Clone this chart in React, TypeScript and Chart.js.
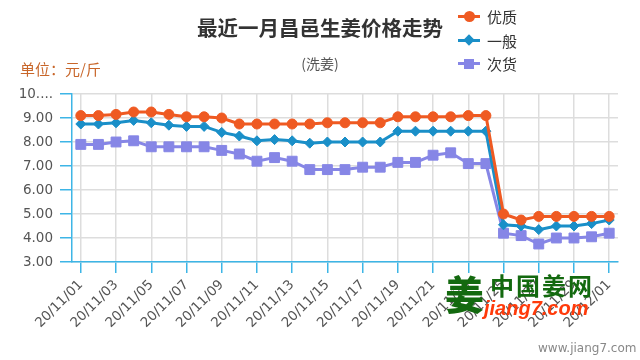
import React, { useEffect, useRef } from "react";
import { Chart, registerables } from "chart.js";

Chart.register(...registerables);

const dates = [
  "20/11/01", "20/11/02", "20/11/03", "20/11/04", "20/11/05", "20/11/06", "20/11/07", "20/11/08",
  "20/11/09", "20/11/10", "20/11/11", "20/11/12", "20/11/13", "20/11/14", "20/11/15", "20/11/16",
  "20/11/17", "20/11/18", "20/11/19", "20/11/20", "20/11/21", "20/11/22", "20/11/23", "20/11/24",
  "20/11/25", "20/11/26", "20/11/27", "20/11/28", "20/11/29", "20/11/30", "20/12/01",
];

const premium = [
  9.1, 9.1, 9.15, 9.25, 9.25, 9.15, 9.05, 9.05, 9.0, 8.75, 8.75, 8.75, 8.75, 8.75, 8.8, 8.8,
  8.8, 8.8, 9.05, 9.05, 9.05, 9.05, 9.1, 9.1, 5.0, 4.75, 4.9, 4.9, 4.9, 4.9, 4.9,
];

const normal = [
  8.75, 8.75, 8.8, 8.9, 8.8, 8.7, 8.65, 8.65, 8.4, 8.25, 8.05, 8.1, 8.05, 7.95, 8.0, 8.0,
  8.0, 8.0, 8.45, 8.45, 8.45, 8.45, 8.45, 8.45, 4.55, 4.5, 4.35, 4.5, 4.5, 4.6, 4.75,
];

const low = [
  7.9, 7.9, 8.0, 8.05, 7.8, 7.8, 7.8, 7.8, 7.65, 7.5, 7.2, 7.35, 7.2, 6.85, 6.85, 6.85,
  6.95, 6.95, 7.15, 7.15, 7.45, 7.55, 7.1, 7.1, 4.2, 4.1, 3.75, 4.0, 4.0, 4.05, 4.2,
];

const seriesNames = ["优质", "一般", "次货"];
const seriesColors = ["#EF5A22", "#1A8FC8", "#8686E6"];

const AXIS = "#3DB5E6";
const GRID = "#DDDDDD";
const CJK = '"Noto Sans CJK SC", "Noto Sans", sans-serif';

export default function App() {
  const ref = useRef<HTMLCanvasElement | null>(null);

  useEffect(() => {
    if (!ref.current) return;
    const chart = new Chart(ref.current, {
      type: "line",
      data: {
        labels: dates,
        datasets: [
          {
            label: seriesNames[0],
            data: premium,
            borderColor: seriesColors[0],
            backgroundColor: seriesColors[0],
            borderWidth: 3,
            pointStyle: "circle",
            pointRadius: 5,
            pointBorderWidth: 1,
            tension: 0,
          },
          {
            label: seriesNames[1],
            data: normal,
            borderColor: seriesColors[1],
            backgroundColor: seriesColors[1],
            borderWidth: 3,
            pointStyle: "rectRot",
            pointRadius: 5,
            pointBorderWidth: 1,
            tension: 0,
          },
          {
            label: seriesNames[2],
            data: low,
            borderColor: seriesColors[2],
            backgroundColor: seriesColors[2],
            borderWidth: 3,
            pointStyle: "rect",
            pointRadius: 7,
            pointBorderWidth: 1,
            tension: 0,
          },
        ],
      },
      options: {
        animation: false,
        responsive: false,
        maintainAspectRatio: false,
        layout: { padding: { top: 94, right: 22, left: 0, bottom: 0 } },
        plugins: {
          legend: { display: false },
          title: { display: false },
          tooltip: { enabled: false },
        },
        scales: {
          x: {
            type: "category",
            offset: true,
            grid: {
              color: GRID,
              tickColor: AXIS,
              tickLength: 11,
              offset: false,
              lineWidth: 1.5,
            },
            border: { color: AXIS, width: 1.5 },
            ticks: {
              autoSkip: false,
              maxRotation: 45,
              minRotation: 45,
              padding: 4,
              color: "#555",
              font: { family: '"DejaVu Sans", sans-serif', size: 13.5 },
              callback: (_v: any, i: number) => (i % 2 === 0 ? dates[i] : null),
            },
            afterFit: (s: any) => {
              s.height = 98;
            },
          },
          y: {
            min: 3,
            max: 10,
            grid: { color: GRID, tickColor: AXIS, tickLength: 12, lineWidth: 1.5 },
            border: { color: AXIS, width: 1.5 },
            ticks: {
              stepSize: 1,
              padding: 7,
              color: "#555",
              font: { family: '"DejaVu Sans", sans-serif', size: 13.5 },
              callback: (v: any) => (Number(v) === 10 ? "10...." : Number(v).toFixed(2)),
            },
            afterFit: (s: any) => {
              s.width = 72;
            },
          },
        },
      },
    });
    return () => chart.destroy();
  }, []);

  const legendMarker = (i: number) => {
    const c = seriesColors[i];
    let shape: React.CSSProperties;
    if (i === 0) shape = { width: 11, height: 11, borderRadius: "50%", left: 5.5, top: -5.5 };
    else if (i === 1) shape = { width: 8, height: 8, transform: "rotate(45deg)", left: 7, top: -4 };
    else shape = { width: 10, height: 10, left: 6, top: -5 };
    return (
      <span style={{ position: "relative", display: "inline-block", width: 22, height: 0, marginRight: 7, verticalAlign: "middle" }}>
        <span style={{ position: "absolute", left: 0, top: -1.5, width: 22, height: 3, background: c }} />
        <span style={{ position: "absolute", background: c, ...shape }} />
      </span>
    );
  };

  return (
    <div style={{ position: "fixed", left: 0, top: 0, width: 640, height: 360, background: "#fff", overflow: "hidden" }}>
      <canvas ref={ref} width={640} height={360} style={{ position: "absolute", left: 0, top: 0 }} />
      <div style={{ position: "absolute", left: 0, width: 640, top: 13, textAlign: "center", fontFamily: CJK, fontWeight: 700, fontSize: 20.5, color: "#333", lineHeight: "28px" }}>
        最近一月昌邑生姜价格走势
      </div>
      <div style={{ position: "absolute", left: 0, width: 640, top: 53, textAlign: "center", fontFamily: CJK, fontSize: 14, color: "#555", lineHeight: "20px" }}>
        (洗姜)
      </div>
      <div style={{ position: "absolute", left: 20, top: 59, fontFamily: CJK, fontSize: 15, color: "#C8662A", lineHeight: "20px" }}>
        单位：元/斤
      </div>
      <div style={{ position: "absolute", left: 458, top: 3, fontFamily: CJK, fontSize: 15, color: "#333" }}>
        {seriesNames.map((n, i) => (
          <div key={n} style={{ height: 23.5, lineHeight: "23.5px", whiteSpace: "nowrap" }}>
            {legendMarker(i)}
            <span style={{ verticalAlign: "middle" }}>{n}</span>
          </div>
        ))}
      </div>
      <div style={{ position: "absolute", left: 445, top: 268, fontFamily: CJK, fontWeight: 900, fontSize: 39, color: "#13690F", lineHeight: "48px" }}>
        姜
      </div>
      <div style={{ position: "absolute", left: 490, top: 270, fontFamily: CJK, fontWeight: 700, fontSize: 24, letterSpacing: 2, color: "#13690F", lineHeight: "30px" }}>
        中国姜网
      </div>
      <div style={{ position: "absolute", left: 484, top: 296, fontFamily: '"Liberation Sans", Arial, sans-serif', fontWeight: 700, fontStyle: "italic", fontSize: 20, color: "#FF3A0A", lineHeight: "24px" }}>
        jiang7.com
      </div>
      <div style={{ position: "absolute", left: 538, top: 340, fontFamily: '"DejaVu Sans", sans-serif', fontSize: 12, color: "#888", lineHeight: "16px" }}>
        www.jiang7.com
      </div>
    </div>
  );
}
